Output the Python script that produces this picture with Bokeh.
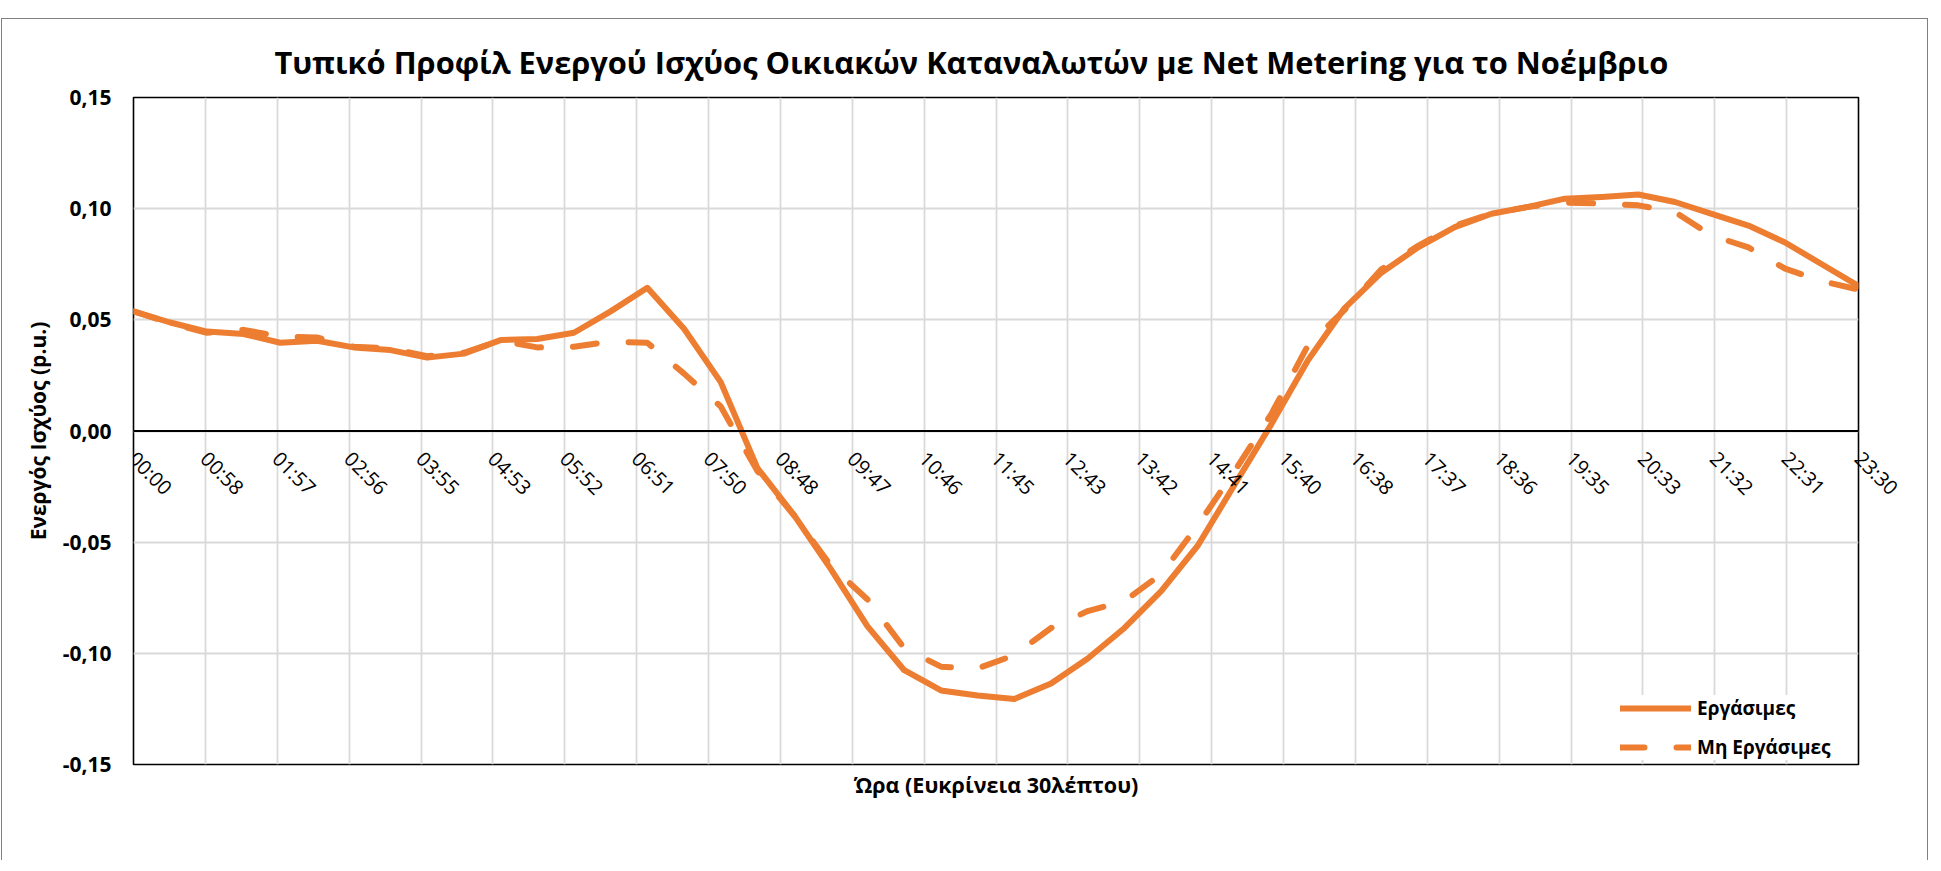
import math
from bokeh.plotting import figure
from bokeh.models import (FixedTicker, Span, Legend, LegendItem, Label, LinearAxis,
                          Range1d, CustomJSTickFormatter)
from bokeh.embed import file_html
from bokeh.resources import INLINE

# ---------------- data ----------------
minutes = list(range(0, 1411, 30))  # 00:00 ... 23:30, 30-minute resolution

working = [0.0538, 0.0488, 0.0447, 0.0436, 0.0397, 0.0406, 0.0376, 0.0364, 0.0330, 0.0348,
           0.0409, 0.0414, 0.0442, 0.0538, 0.0644, 0.0460, 0.0220, -0.0167, -0.0379, -0.0621,
           -0.0879, -0.1076, -0.1167, -0.1190, -0.1205, -0.1136, -0.1023, -0.0886, -0.0720, -0.0515,
           -0.0242, 0.0030, 0.0318, 0.0553, 0.0712, 0.0826, 0.0917, 0.0977, 0.1008, 0.1045,
           0.1053, 0.1064, 0.1030, 0.0977, 0.0924, 0.0848, 0.0750, 0.0652]

nonworking = [0.0538, 0.0485, 0.0442, 0.0455, 0.0424, 0.0421, 0.0379, 0.0371, 0.0336, 0.0352,
              0.0406, 0.0376, 0.0379, 0.0402, 0.0397, 0.0258, 0.0110, -0.0180, -0.0380, -0.0606,
              -0.0758, -0.0977, -0.1060, -0.1068, -0.1008, -0.0886, -0.0810, -0.0765, -0.0644, -0.0424,
              -0.0180, 0.0076, 0.0385, 0.0545, 0.0727, 0.0833, 0.0924, 0.0977, 0.1008, 0.1027,
              0.1023, 0.1015, 0.0985, 0.0879, 0.0826, 0.0730, 0.0674, 0.0636]

x_tick_labels = ["00:00", "00:58", "01:57", "02:56", "03:55", "04:53", "05:52", "06:51",
                 "07:50", "08:48", "09:47", "10:46", "11:45", "12:43", "13:42", "14:41",
                 "15:40", "16:38", "17:37", "18:36", "19:35", "20:33", "21:32", "22:31", "23:30"]
x_ticks = [k * 1410 / 24 for k in range(len(x_tick_labels))]
y_ticks = [-0.15, -0.10, -0.05, 0.0, 0.05, 0.10, 0.15]

series_names = ["Εργάσιμες", "Μη Εργάσιμες"]
title_text = "Τυπικό Προφίλ Ενεργού Ισχύος Οικιακών Καταναλωτών με Net Metering για το Νοέμβριο"
x_title = "Ώρα (Ευκρίνεια 30λέπτου)"
y_title = "Ενεργός Ισχύος (p.u.)"

# ---------------- figure ----------------
FONT = "Open Sans"
ORANGE = "#ED7D31"
FRAME_H = 667            # px height of the plot area
LABEL_DROP = 24          # px below the zero line where the time labels start

p = figure(width=1927, height=842,
           x_range=Range1d(0, 1410), y_range=Range1d(-0.15, 0.15),
           output_backend="svg", toolbar_location=None,
           min_border_left=131, min_border_right=71,
           min_border_top=78, min_border_bottom=97)
p.styles = {"border-style": "solid solid none solid",
            "border-width": "1px 1px 0px 1px",
            "border-color": "#808080",
            "margin-top": "18px", "margin-left": "1px"}

p.title.text = title_text
p.title.align = "left"
p.title.offset = 141
p.title.vertical_align = "top"
p.title.standoff = 26
p.title.text_font = FONT
p.title.text_font_style = "bold"
p.title.text_font_size = "30.8px"
p.title.text_color = "black"

p.outline_line_color = "black"
p.outline_line_width = 1.6

# y axis
p.yaxis.ticker = FixedTicker(ticks=y_ticks)
p.yaxis.formatter = CustomJSTickFormatter(code="return tick.toFixed(2).replace('.', ',');")
p.yaxis.major_label_text_font = FONT
p.yaxis.major_label_text_font_style = "bold"
p.yaxis.major_label_text_font_size = "21px"
p.yaxis.major_label_text_color = "black"
p.yaxis.major_label_standoff = 22
p.yaxis.major_tick_in = 0
p.yaxis.major_tick_out = 0
p.yaxis.minor_tick_in = 0
p.yaxis.minor_tick_out = 0
p.yaxis.axis_line_color = None
p.yaxis.axis_label = y_title
p.yaxis.axis_label_text_font = FONT
p.yaxis.axis_label_text_font_style = "bold"
p.yaxis.axis_label_text_font_size = "21px"
p.yaxis.axis_label_text_color = "black"
p.yaxis.axis_label_standoff = 8

# x axis: only its title; tick labels are drawn at the zero line
p.xaxis.ticker = FixedTicker(ticks=[])
p.xaxis.major_tick_in = 0
p.xaxis.major_tick_out = 0
p.xaxis.minor_tick_in = 0
p.xaxis.minor_tick_out = 0
p.xaxis.axis_line_color = None
p.xaxis.major_label_standoff = 0
p.xaxis.axis_label = x_title
p.xaxis.axis_label_text_font = FONT
p.xaxis.axis_label_text_font_style = "bold"
p.xaxis.axis_label_text_font_size = "21.5px"
p.xaxis.axis_label_text_color = "black"
p.xaxis.axis_label_standoff = 5

p.xgrid.ticker = FixedTicker(ticks=x_ticks)
for g in (p.xgrid, p.ygrid):
    g.grid_line_color = "#D9D9D9"
    g.grid_line_width = 1.8

zero = Span(location=0, dimension="width", line_color="black", line_width=1.8, level="glyph")
p.add_layout(zero)

r1 = p.line(minutes, working, line_color=ORANGE, line_width=6,
            line_cap="round", line_join="round")
r2 = p.line(minutes, nonworking, line_color=ORANGE, line_width=6,
            line_cap="round", line_join="round", line_dash="24 32")

# time labels at the zero line (all but the last, which sits on the frame edge)
for xt, lab in zip(x_ticks[:-1], x_tick_labels[:-1]):
    p.add_layout(Label(x=xt, y=0.0, text=lab, angle=-math.pi / 4,
                       text_align="left", text_baseline="middle",
                       x_offset=-1, y_offset=-LABEL_DROP,
                       text_font=FONT, text_font_size="20px", text_color="black"))

# last time label: drawn by a right-hand axis so it is not clipped by the frame
drop = LABEL_DROP * (0.15 - (-0.15)) / FRAME_H
last_axis = LinearAxis(ticker=FixedTicker(ticks=[-drop]),
                       formatter=CustomJSTickFormatter(args=dict(lab=x_tick_labels[-1]),
                                                       code="return lab;"),
                       major_label_orientation=-math.pi / 4, major_label_standoff=0,
                       axis_line_color=None, major_tick_in=0, major_tick_out=0,
                       minor_tick_in=0, minor_tick_out=0,
                       major_label_text_font=FONT, major_label_text_font_size="20px",
                       major_label_text_color="black")
p.add_layout(last_axis, "right")

legend = Legend(items=[LegendItem(label=series_names[0], renderers=[r1]),
                       LegendItem(label=series_names[1], renderers=[r2])],
                location=(1487, 4), margin=0, padding=7, spacing=13,
                glyph_width=71, glyph_height=24, label_height=24, label_standoff=6,
                label_text_font=FONT, label_text_font_style="bold",
                label_text_font_size="19px", label_text_color="black",
                background_fill_color="white", background_fill_alpha=1.0,
                border_line_color=None)
p.add_layout(legend)

open("out.html", "w").write(file_html(p, INLINE))
